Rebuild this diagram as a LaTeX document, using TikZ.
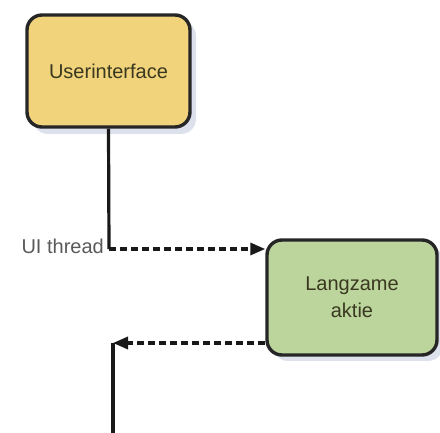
\documentclass[tikz,border=0pt]{standalone}
\usepackage{fontspec}
\setmainfont{Liberation Sans}
\usetikzlibrary{arrows.meta}
\definecolor{uiyellow}{HTML}{F0D37A}
\definecolor{slowgreen}{HTML}{BBD59C}
\definecolor{shadowblue}{HTML}{CDD4E4}
\definecolor{boxtext}{HTML}{3A3820}
\begin{document}
\begin{tikzpicture}[x=1pt,y=-1pt,
        block/.style={draw=black!85,line width=3.4pt,rounded corners=15pt,align=center,
            text=boxtext,font=\fontsize{20}{27}\selectfont,inner sep=0pt},
        shade/.style={fill=shadowblue,opacity=0.7,rounded corners=15pt},
        flow/.style={line width=3.2pt,black!90},
        call/.style={flow,dash pattern=on 7pt off 4pt,-{Triangle[length=15pt,width=12pt]}}]
        \useasboundingbox (0,0) rectangle (440,433);

        % shadows
        \fill[shade] (33,21) rectangle (196,134);
        \fill[shade] (273,246) rectangle (443,361);

        % blocks
        \node[block,fill=uiyellow,minimum width=163pt,minimum height=112pt] (ui) at (108.5,71) {Userinterface};
        \node[block,fill=slowgreen,minimum width=170pt,minimum height=115pt] (slow) at (352,297.5) {Langzame\\aktie};

        % ui thread
        \coordinate (split) at (109,249);
        \coordinate (back) at (113,343);
        \coordinate (out) at (113,440);
        \draw[flow] (ui.south) -- (split);
        \node[anchor=east,text=black!65,font=\fontsize{20}{24}\selectfont,inner sep=0pt] (uilabel) at (104,246) {UI thread};

        % calls
        \draw[call] (split) -- (slow.west |- split);
        \draw[call] (slow.west |- back) -- (back);
        \draw[flow] (back) -- (out);
    \end{tikzpicture}
\end{document}
